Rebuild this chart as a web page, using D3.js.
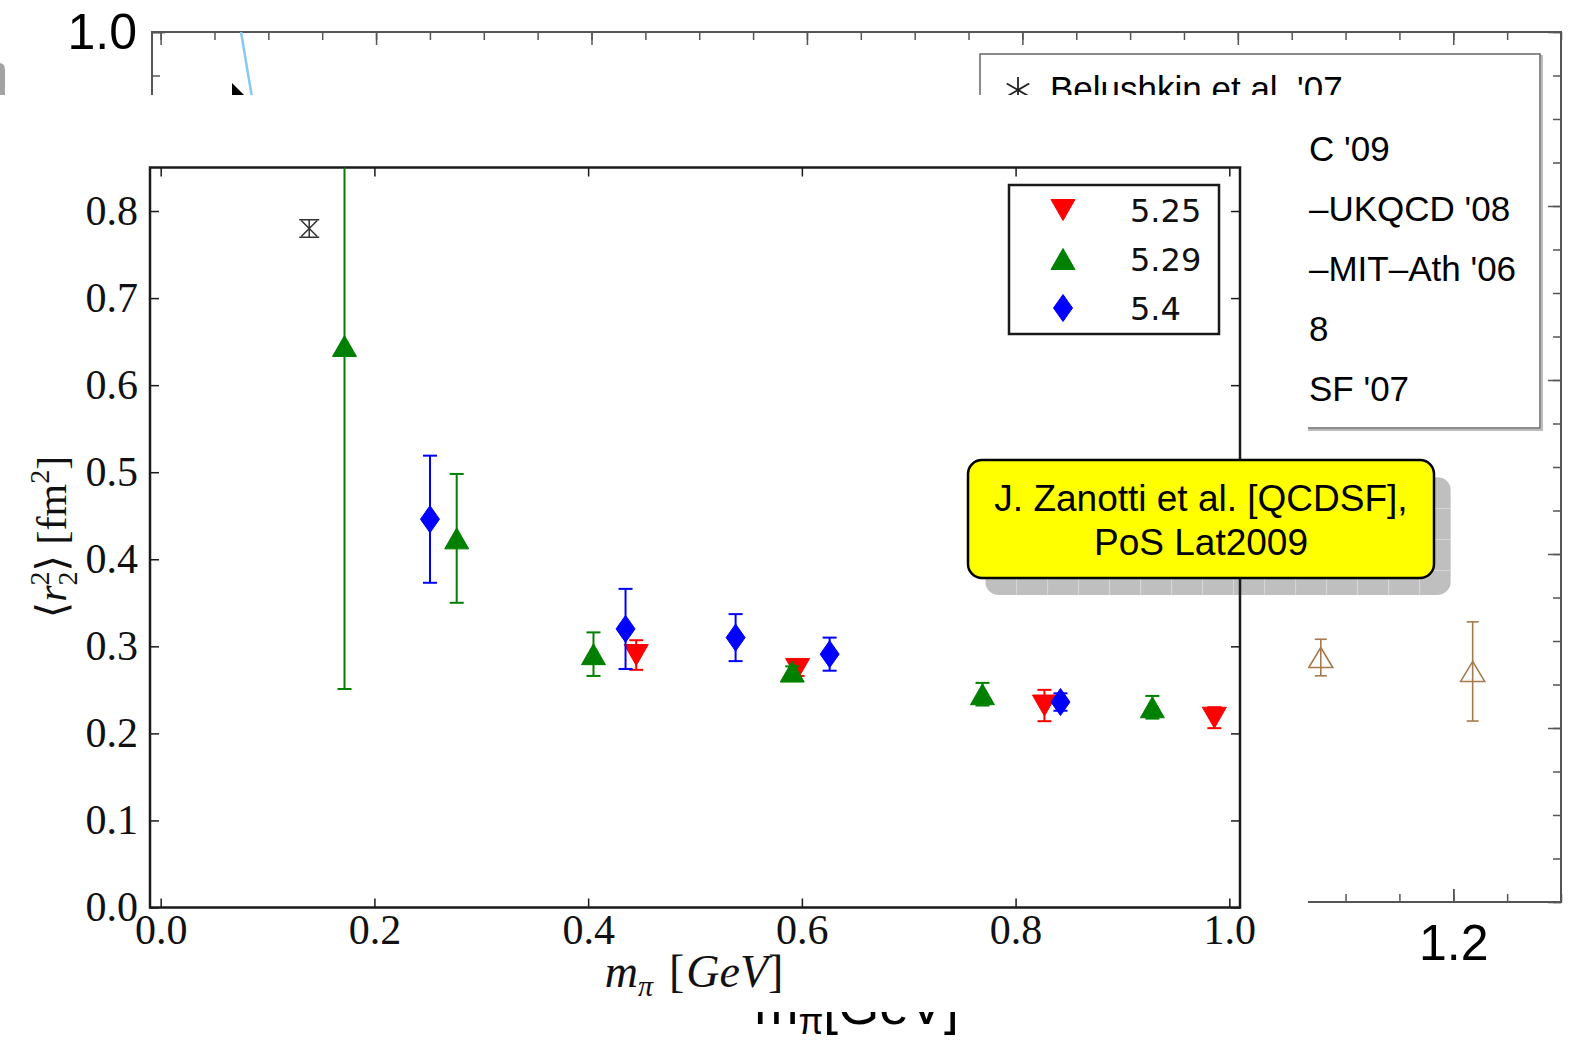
<!DOCTYPE html>
<html>
<head>
<meta charset="utf-8">
<title>Isovector radius against pion mass</title>
<script src="https://cdn.jsdelivr.net/npm/d3@7"></script>
<style>
  html, body { margin: 0; padding: 0; background: #ffffff; overflow: hidden; }
  svg { display: block; }
</style>
</head>
<body>
<svg id="chart" width="1573" height="1041"></svg>
<script>
// ================= Data =================
// Inset panel: <r_2^2> [fm^2] versus m_pi [GeV] for three lattice couplings
const betaLabels = ["5.25", "5.29", "5.4"];

const mpi525 = [0.445, 0.596, 0.827, 0.986];
const r2_525 = [0.290, 0.274, 0.232, 0.218];
const err525 = [0.017, 0.008, 0.018, 0.012];

const mpi529 = [0.172, 0.277, 0.405, 0.591, 0.769, 0.928];
const r2_529 = [0.645, 0.424, 0.291, 0.271, 0.245, 0.230];
const err529 = [0.394, 0.074, 0.025, 0.006, 0.013, 0.013];

const mpi54 = [0.252, 0.435, 0.538, 0.626, 0.842];
const r2_54 = [0.446, 0.320, 0.310, 0.291, 0.236];
const err54 = [0.073, 0.046, 0.027, 0.019, 0.010];

// experimental value at the physical pion mass
const mpiPhys = [0.139];
const r2Phys = [0.780];
const errPhys = [0.010];

const fgXTicks = [0.0, 0.2, 0.4, 0.6, 0.8, 1.0];
const fgYTicks = [0.0, 0.1, 0.2, 0.3, 0.4, 0.5, 0.6, 0.7, 0.8];

// Underlying slide plot
const bgMpi = [1.077, 1.218];
const bgR = [0.281, 0.265];
const bgErr = [0.021, 0.057];
const bgCurveX = [0.0746, 0.0862];
const bgCurveY = [1.000, 0.915];
const bgMajorX = [0.0, 0.2, 0.4, 0.6, 0.8, 1.0, 1.2];
const bgMinorX = d3.range(0, 27).map(i => i * 0.05);
const bgMajorY = [0.0, 0.2, 0.4, 0.6, 0.8, 1.0];
const bgMinorY = d3.range(0, 21).map(i => i * 0.05);
// legend entries: [text ahead of the inset edge, text past it]
const bgLegendText = [
  ["Belushkin et al. '07", ""],
  ["ETM", "C '09"],
  ["RBC", "\u2013UKQCD '08"],
  ["Cyp", "\u2013MIT\u2013Ath '06"],
  ["LHPC '0", "8"],
  ["QCD", "SF '07"]
];

const calloutLines = ["J. Zanotti et al. [QCDSF],", "PoS Lat2009"];

// ================= Drawing =================
const svg = d3.select("#chart");
const SANS = "'Liberation Sans', Arial, Helvetica, sans-serif";
const SERIF = "'Liberation Serif', 'Times New Roman', 'DejaVu Serif', serif";
const MPL = "'DejaVu Sans', 'Liberation Sans', sans-serif";

// inset panel rectangle (covers most of the slide plot)
const panel = { x: 0, y: 95, right: 1308, bottom: 1012 };
const insidePanel = (px, py) => px >= panel.x && px <= panel.right && py >= panel.y && py <= panel.bottom;

const defs = svg.append("defs");
const pat = defs.append("pattern").attr("id", "shadowGrid")
  .attr("patternUnits", "userSpaceOnUse").attr("width", 31).attr("height", 31)
  .attr("x", 985).attr("y", 477);
pat.append("rect").attr("width", 31).attr("height", 31).attr("fill", "#bfbfbf");
pat.append("path").attr("d", "M0.5,0V31M0,0.5H31").attr("stroke", "#d6d6d6").attr("stroke-width", 1.2);

// ---------- underlying slide plot ----------
const xBg = d3.scaleLinear().domain([-0.008, 1.3]).range([152, 1561]);
const yBg = d3.scaleLinear().domain([0, 1.0]).range([902, 32]);
const bg = svg.append("g").attr("class", "slide");
const fmt1 = d3.format(".1f");

function styleBgAxis(g) {
  g.select(".domain").remove();
  g.selectAll(".tick line").attr("stroke", "#555").attr("stroke-width", 1.5);
  g.attr("font-family", SANS).attr("font-size", 50);
  g.selectAll(".tick text").attr("fill", "#000");
  g.selectAll(".tick text").filter(function () { return this.textContent === ""; }).remove();
}
const bgAxes = [
  [d3.axisBottom(xBg), bgMinorX, bgMajorX, `translate(0,${yBg(0)})`],
  [d3.axisTop(xBg), bgMinorX, bgMajorX, `translate(0,${yBg(1)})`],
  [d3.axisLeft(yBg), bgMinorY, bgMajorY, `translate(${xBg(-0.008)},0)`],
  [d3.axisRight(yBg), bgMinorY, bgMajorY, `translate(${xBg(1.3)},0)`]
];
bgAxes.forEach(([ax, minor, major, tr]) => {
  bg.append("g").attr("transform", tr)
    .call(ax.tickValues(minor).tickSize(-8).tickFormat(""))
    .call(styleBgAxis);
  bg.append("g").attr("transform", tr)
    .call(ax.tickValues(major).tickSize(-13).tickFormat(""))
    .call(styleBgAxis);
});
// labelled major ticks; labels that fall behind the inset are left out
bg.append("g").attr("transform", `translate(0,${yBg(0)})`)
  .call(d3.axisBottom(xBg).tickValues(bgMajorX).tickSize(-13).tickPadding(22)
    .tickFormat(v => insidePanel(xBg(v) + 40, yBg(0) + 40) ? "" : fmt1(v)))
  .call(styleBgAxis);
bg.append("g").attr("transform", `translate(${xBg(-0.008)},0)`)
  .call(d3.axisLeft(yBg).tickValues(bgMajorY).tickSize(-13).tickPadding(15)
    .tickFormat(v => insidePanel(xBg(-0.008) - 40, yBg(v) - 25) ? "" : fmt1(v)))
  .call(styleBgAxis);
// frame
bg.append("rect")
  .attr("x", xBg(-0.008)).attr("y", yBg(1))
  .attr("width", xBg(1.3) - xBg(-0.008)).attr("height", yBg(0) - yBg(1))
  .attr("fill", "none").attr("stroke", "#555").attr("stroke-width", 2);

// axis title
const bgXTitle = bg.append("text")
  .attr("x", (xBg(-0.008) + xBg(1.3)) / 2).attr("y", 1024)
  .attr("text-anchor", "middle").attr("font-family", SANS).attr("font-size", 53).attr("fill", "#000");
bgXTitle.append("tspan").text("m");
bgXTitle.append("tspan").attr("font-size", 36).attr("dy", 10).text("\u03c0");
bgXTitle.append("tspan").attr("dy", -10).text("[GeV]");

// fit curve
bg.append("path")
  .datum(d3.zip(bgCurveX, bgCurveY))
  .attr("d", d3.line().x(d => xBg(d[0])).y(d => yBg(d[1])))
  .attr("fill", "none").attr("stroke", "#86c9f2").attr("stroke-width", 2.5);

// open triangles with error bars
const brown = "#a67a4c";
const bgPts = bg.append("g").selectAll("g").data(d3.range(bgMpi.length)).join("g")
  .attr("transform", i => `translate(${xBg(bgMpi[i])},0)`);
bgPts.append("line")
  .attr("y1", i => yBg(bgR[i] - bgErr[i])).attr("y2", i => yBg(bgR[i] + bgErr[i]))
  .attr("stroke", brown).attr("stroke-width", 1.6);
[-1, 1].forEach(sgn => {
  bgPts.append("line").attr("x1", -6).attr("x2", 6)
    .attr("y1", i => yBg(bgR[i] + sgn * bgErr[i])).attr("y2", i => yBg(bgR[i] + sgn * bgErr[i]))
    .attr("stroke", brown).attr("stroke-width", 1.6);
});
bgPts.append("path")
  .attr("d", i => { const c = yBg(bgR[i]); return `M0,${c - 10}L12,${c + 10}L-12,${c + 10}Z`; })
  .attr("fill", "none").attr("stroke", brown).attr("stroke-width", 1.6);

// legend
const bgLeg = bg.append("g");
bgLeg.append("rect").attr("x", 982).attr("y", 56).attr("width", 560).attr("height", 374)
  .attr("fill", "none").attr("stroke", "#bbb").attr("stroke-width", 2);
bgLeg.append("rect").attr("x", 980).attr("y", 54).attr("width", 560).attr("height", 374)
  .attr("fill", "#fff").attr("stroke", "#666").attr("stroke-width", 1.5);
const tailStart = panel.right + 1;
bgLegendText.forEach(([head, tail], i) => {
  const base = 101 + 60 * i;
  const t = bgLeg.append("text").attr("x", 1050).attr("y", base)
    .attr("font-family", SANS).attr("font-size", 35).attr("fill", "#000");
  const h = t.append("tspan").text(head);
  if (tail !== "") {
    t.append("tspan").text(tail);
    // shift the entry so that its tail begins right at the inset edge
    t.attr("x", tailStart - h.node().getComputedTextLength());
  }
});
// asterisk marker of the first entry
const ast = bgLeg.append("g").attr("transform", "translate(1018,90)")
  .attr("stroke", "#222").attr("stroke-width", 1.8);
[90, 30, 150].forEach(a => {
  const r = 13, t = a * Math.PI / 180;
  ast.append("line").attr("x1", -r * Math.cos(t)).attr("y1", -r * Math.sin(t))
    .attr("x2", r * Math.cos(t)).attr("y2", r * Math.sin(t));
});

// pointer and edge of a grey slide element
svg.append("path").attr("d", "M232,83L232,100L249,100Z").attr("fill", "#000");
svg.append("path").attr("d", "M-10,63H-1Q5,63 5,70V100H-10Z").attr("fill", "#a3a3a3");

// ---------- inset panel ----------
svg.append("rect").attr("x", panel.x).attr("y", panel.y)
  .attr("width", panel.right - panel.x).attr("height", panel.bottom - panel.y).attr("fill", "#fff");
svg.append("rect").attr("x", 1290).attr("y", panel.y).attr("width", 55).attr("height", 12).attr("fill", "#fff");

// callout shadow sits under the inset frame
svg.append("rect").attr("x", 985).attr("y", 477).attr("width", 466).attr("height", 118)
  .attr("rx", 14).attr("fill", "url(#shadowGrid)");

const xFg = d3.scaleLinear().domain([-0.01, 1.01]).range([150, 1240]);
const yFg = d3.scaleLinear().domain([0, 0.85]).range([907.5, 167.5]);
const fg = svg.append("g").attr("class", "inset");

defs.append("clipPath").attr("id", "plotArea").append("rect")
  .attr("x", 150).attr("y", 167.5).attr("width", 1090).attr("height", 740);

function styleFgAxis(g) {
  g.select(".domain").remove();
  g.selectAll(".tick line").attr("stroke", "#1a1a1a").attr("stroke-width", 1.5);
  g.attr("font-family", SERIF).attr("font-size", 42);
  g.selectAll(".tick text").attr("fill", "#111");
}
fg.append("g").attr("transform", `translate(0,${yFg(0)})`)
  .call(d3.axisBottom(xFg).tickValues(fgXTicks).tickSize(-9).tickPadding(7).tickFormat(fmt1))
  .call(styleFgAxis);
fg.append("g").attr("transform", `translate(0,${yFg(0.85)})`)
  .call(d3.axisTop(xFg).tickValues(fgXTicks).tickSize(-9).tickFormat(""))
  .call(styleFgAxis);
fg.append("g").attr("transform", `translate(${xFg(-0.01)},0)`)
  .call(d3.axisLeft(yFg).tickValues(fgYTicks).tickSize(-9).tickPadding(12).tickFormat(fmt1))
  .call(styleFgAxis);
fg.append("g").attr("transform", `translate(${xFg(1.01)},0)`)
  .call(d3.axisRight(yFg).tickValues(fgYTicks).tickSize(-9).tickFormat(""))
  .call(styleFgAxis);

fg.append("rect").attr("x", 150).attr("y", 167.5).attr("width", 1090).attr("height", 740)
  .attr("fill", "none").attr("stroke", "#1a1a1a").attr("stroke-width", 2.5);

// axis titles
const fgX = fg.append("text").attr("x", 694).attr("y", 987).attr("text-anchor", "middle")
  .attr("font-family", SERIF).attr("font-size", 46).attr("fill", "#111");
fgX.append("tspan").attr("font-style", "italic").text("m");
fgX.append("tspan").attr("font-style", "italic").attr("font-size", 30).attr("dy", 9).text("\u03c0");
fgX.append("tspan").attr("dy", -9).attr("dx", 16).text("[");
fgX.append("tspan").attr("font-style", "italic").attr("dx", 2).text("GeV");
fgX.append("tspan").text("]");

const fgY = fg.append("text").attr("transform", "translate(66,537) rotate(-90)")
  .attr("text-anchor", "middle").attr("font-family", SERIF).attr("font-size", 42).attr("fill", "#111");
fgY.append("tspan").text("\u27e8");
fgY.append("tspan").attr("font-style", "italic").text("r");
fgY.append("tspan").attr("font-size", 28).attr("dy", -17).text("2");
fgY.append("tspan").attr("font-size", 28).attr("dx", -14).attr("dy", 28).text("2");
fgY.append("tspan").attr("dy", -11).text("\u27e9 [fm");
fgY.append("tspan").attr("font-size", 28).attr("dy", -17).text("2");
fgY.append("tspan").attr("dy", 17).text("]");

// markers
const shapes = {
  down: (w, h) => `M${-w / 2},${-h / 2}L${w / 2},${-h / 2}L0,${h / 2}Z`,
  up: (w, h) => `M0,${-h / 2}L${w / 2},${h / 2}L${-w / 2},${h / 2}Z`,
  diamond: (w, h) => `M0,${-h / 2}L${w / 2},0L0,${h / 2}L${-w / 2},0Z`
};
const series = [
  { label: betaLabels[0], x: mpi525, y: r2_525, e: err525, color: "#ff0000", shape: "down", w: 24, h: 21 },
  { label: betaLabels[1], x: mpi529, y: r2_529, e: err529, color: "#008000", shape: "up", w: 24, h: 21 },
  { label: betaLabels[2], x: mpi54, y: r2_54, e: err54, color: "#0000ff", shape: "diamond", w: 19, h: 27 }
];

const dataG = fg.append("g").attr("clip-path", "url(#plotArea)");

// physical point: cross with error caps
const phys = dataG.append("g").selectAll("g").data(d3.range(mpiPhys.length)).join("g")
  .attr("stroke", "#333").attr("stroke-width", 1.5);
phys.append("line").attr("x1", i => xFg(mpiPhys[i])).attr("x2", i => xFg(mpiPhys[i]))
  .attr("y1", i => yFg(r2Phys[i] - errPhys[i])).attr("y2", i => yFg(r2Phys[i] + errPhys[i]));
[-1, 1].forEach(sgn => {
  phys.append("line").attr("x1", i => xFg(mpiPhys[i]) - 10).attr("x2", i => xFg(mpiPhys[i]) + 10)
    .attr("y1", i => yFg(r2Phys[i] + sgn * errPhys[i])).attr("y2", i => yFg(r2Phys[i] + sgn * errPhys[i]));
});
phys.append("path").attr("d", i => {
  const cx = xFg(mpiPhys[i]), cy = yFg(r2Phys[i]), s = 8;
  return `M${cx - s},${cy - s}L${cx + s},${cy + s}M${cx + s},${cy - s}L${cx - s},${cy + s}`;
}).attr("fill", "none");

series.forEach(s => {
  const g = dataG.append("g");
  const idx = d3.range(s.x.length);
  const pts = g.selectAll("g").data(idx).join("g");
  pts.append("line")
    .attr("x1", i => xFg(s.x[i])).attr("x2", i => xFg(s.x[i]))
    .attr("y1", i => yFg(s.y[i] - s.e[i])).attr("y2", i => yFg(s.y[i] + s.e[i]))
    .attr("stroke", s.color).attr("stroke-width", 2);
  [-1, 1].forEach(sgn => {
    pts.append("line")
      .attr("x1", i => xFg(s.x[i]) - 7).attr("x2", i => xFg(s.x[i]) + 7)
      .attr("y1", i => yFg(s.y[i] + sgn * s.e[i])).attr("y2", i => yFg(s.y[i] + sgn * s.e[i]))
      .attr("stroke", s.color).attr("stroke-width", 2);
  });
  pts.append("path")
    .attr("transform", i => `translate(${xFg(s.x[i])},${yFg(s.y[i])})`)
    .attr("d", shapes[s.shape](s.w, s.h))
    .attr("fill", s.color).attr("stroke", s.color).attr("stroke-width", 1);
});

// legend
const leg = fg.append("g");
leg.append("rect").attr("x", 1009).attr("y", 185).attr("width", 210).attr("height", 149)
  .attr("fill", "#fff").attr("stroke", "#1a1a1a").attr("stroke-width", 2.5);
series.forEach((s, i) => {
  const cy = 210 + 49 * i;
  leg.append("path").attr("transform", `translate(1063,${cy})`)
    .attr("d", shapes[s.shape](s.w, s.h)).attr("fill", s.color).attr("stroke", s.color);
  leg.append("text").attr("x", 1130).attr("y", cy).attr("dy", "0.36em")
    .attr("font-family", MPL).attr("font-size", 32).attr("fill", "#111").text(s.label);
});

// ---------- callout ----------
const call = svg.append("g");
call.append("rect").attr("x", 968).attr("y", 460).attr("width", 466).attr("height", 118)
  .attr("rx", 14).attr("fill", "#ffff00").attr("stroke", "#000").attr("stroke-width", 2.5);
calloutLines.forEach((t, i) => {
  call.append("text").attr("x", 1201).attr("y", 511 + 44 * i).attr("text-anchor", "middle")
    .attr("font-family", SANS).attr("font-size", 37).attr("fill", "#000").text(t);
});
</script>
</body>
</html>
